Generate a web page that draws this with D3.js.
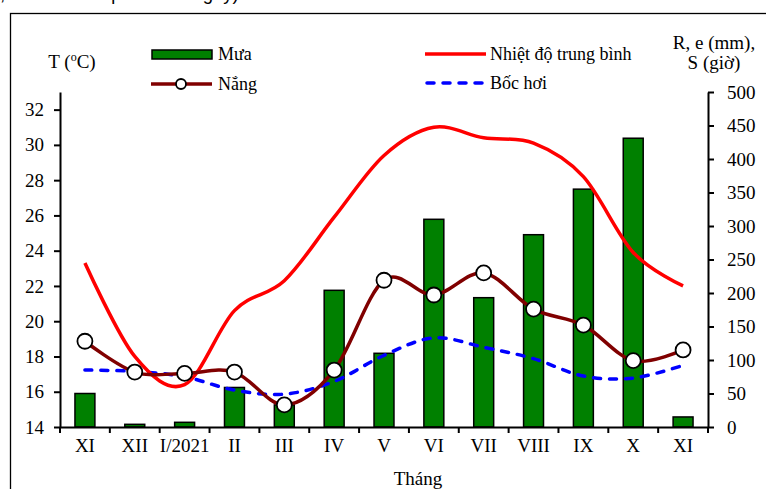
<!DOCTYPE html>
<html>
<head>
<meta charset="utf-8">
<script src="https://cdn.jsdelivr.net/npm/d3@7"></script>
<style>
  body { margin: 0; background: #fff; }
  svg { display: block; }
  text { font-family: "Liberation Serif", "Times New Roman", serif; fill: #000; }
</style>
</head>
<body>
<svg id="chart" width="766" height="489"></svg>
<script>
// month labels (Nov 2020 -> Nov 2021)
var months = ["XI", "XII", "I/2021", "II", "III", "IV", "V", "VI", "VII", "VIII", "IX", "X", "XI"];
// rainfall R (mm) - bars, right axis
var rain = [50, 4, 7, 59, 33, 204, 110, 310, 193, 287, 355, 431, 15];
// sunshine S (hours) - right axis
var sun = [128, 82, 80, 82, 33, 85, 219, 197, 230, 176, 152, 99, 115];
// evaporation e (mm) - right axis
var evap = [85, 83, 75, 55, 49, 68, 107, 133, 119, 102, 76, 73, 92];
// mean temperature T (oC) - left axis
var temp = [23.3, 18.0, 16.4, 20.6, 22.3, 25.9, 29.4, 31.0, 30.4, 30.1, 28.2, 23.9, 22.0];

var leftTicks = [14, 16, 18, 20, 22, 24, 26, 28, 30, 32];
var rightTicks = [0, 50, 100, 150, 200, 250, 300, 350, 400, 450, 500];
var legendNames = ["Mưa", "Nắng", "Nhiệt độ trung bình", "Bốc hơi"];

var svg = d3.select("#chart");
var margin = {left: 60, right: 708, top: 92, bottom: 427};

var x = d3.scaleBand().domain(d3.range(months.length)).range([margin.left, margin.right]);
var bw = x.bandwidth();
var cx = function(i) { return x(i) + bw / 2; };
var yL = d3.scaleLinear().domain([14, 33]).range([margin.bottom, margin.top]);
var yR = d3.scaleLinear().domain([0, 500]).range([margin.bottom, margin.top]);

// caption above the chart, cropped by the top edge like in the source picture
svg.append("text")
    .attr("x", 0).attr("y", 0)
    .style("font-family", "'Liberation Sans', Arial, sans-serif")
    .style("font-size", "18.5px")
    .text(", S tính bình quân theo ngày)");

// chart frame (runs off the picture on right and bottom)
svg.append("rect")
    .attr("x", 10.5).attr("y", 13.5)
    .attr("width", 900).attr("height", 600)
    .attr("fill", "none").attr("stroke", "#000").attr("stroke-width", 1.3);

// bars
svg.append("g").selectAll("rect")
    .data(rain)
    .enter().append("rect")
    .attr("x", function(d, i) { return cx(i) - bw * 0.2; })
    .attr("width", bw * 0.4)
    .attr("y", function(d) { return yR(d); })
    .attr("height", function(d) { return yR(0) - yR(d); })
    .attr("fill", "#008000")
    .attr("stroke", "#000")
    .attr("stroke-width", 1.5);

var smooth = d3.curveCardinal.tension(0);

var lineR = d3.line()
    .x(function(d, i) { return cx(i); })
    .y(function(d) { return yR(d); })
    .curve(smooth);
var lineT = d3.line()
    .x(function(d, i) { return cx(i); })
    .y(function(d) { return yL(d); })
    .curve(smooth);

// evaporation
svg.append("path")
    .datum(evap)
    .attr("d", lineR)
    .attr("fill", "none")
    .attr("stroke", "#0000ff")
    .attr("stroke-width", 3.5)
    .attr("stroke-linecap", "round")
    .attr("stroke-dasharray", "7,9");

// temperature
svg.append("path")
    .datum(temp)
    .attr("d", lineT)
    .attr("fill", "none")
    .attr("stroke", "#ff0000")
    .attr("stroke-width", 3.5);

// sunshine
svg.append("path")
    .datum(sun)
    .attr("d", lineR)
    .attr("fill", "none")
    .attr("stroke", "#800000")
    .attr("stroke-width", 3.5);

svg.append("g").selectAll("circle")
    .data(sun)
    .enter().append("circle")
    .attr("cx", function(d, i) { return cx(i); })
    .attr("cy", function(d) { return yR(d); })
    .attr("r", 7.5)
    .attr("fill", "#fff")
    .attr("stroke", "#000")
    .attr("stroke-width", 1.8);

// axes
var axL = svg.append("g")
    .attr("transform", "translate(" + margin.left + ",0)")
    .call(d3.axisLeft(yL).tickValues(leftTicks).tickSize(6).tickPadding(10).tickSizeOuter(0));
var axR = svg.append("g")
    .attr("transform", "translate(" + margin.right + ",0)")
    .call(d3.axisRight(yR).tickValues(rightTicks).tickSize(6).tickPadding(13).tickSizeOuter(0));
var axB = svg.append("g")
    .attr("transform", "translate(0," + margin.bottom + ")")
    .call(d3.axisBottom(x).tickFormat(function(i) { return months[i]; }).tickSize(0).tickPadding(12).tickSizeOuter(0));

// x ticks sit between categories
axB.selectAll(".sep")
    .data(d3.range(months.length + 1))
    .enter().append("line")
    .attr("class", "sep")
    .attr("x1", function(i) { return margin.left + i * bw; })
    .attr("x2", function(i) { return margin.left + i * bw; })
    .attr("y1", 0).attr("y2", 6)
    .attr("stroke", "#000").attr("stroke-width", 2);

[axL, axR, axB].forEach(function(a) {
    a.selectAll(".domain").attr("stroke", "#000").attr("stroke-width", 2);
    a.selectAll(".tick line").attr("stroke", "#000").attr("stroke-width", 2);
    a.selectAll("text")
        .style("font-family", "'Liberation Serif', 'Times New Roman', serif")
        .style("font-size", "19px");
});
axB.selectAll(".tick text").attr("dy", "0.71em");

// axis titles
var tT = svg.append("text")
    .attr("x", 72).attr("y", 68)
    .attr("text-anchor", "middle")
    .style("font-size", "19px");
tT.append("tspan").text("T (");
tT.append("tspan").attr("dy", -7).style("font-size", "12px").text("o");
tT.append("tspan").attr("dy", 7).text("C)");

svg.append("text")
    .attr("x", 714).attr("y", 49)
    .attr("text-anchor", "middle")
    .style("font-size", "19px")
    .text("R, e (mm),");
svg.append("text")
    .attr("x", 714).attr("y", 69)
    .attr("text-anchor", "middle")
    .style("font-size", "19px")
    .text("S (giờ)");

svg.append("text")
    .attr("x", 418).attr("y", 485)
    .attr("text-anchor", "middle")
    .style("font-size", "19px")
    .text("Tháng");

// legend
var lg = svg.append("g");
lg.append("rect")
    .attr("x", 152).attr("y", 50).attr("width", 60).attr("height", 9)
    .attr("fill", "#008000").attr("stroke", "#000").attr("stroke-width", 1.5);
lg.append("line")
    .attr("x1", 151).attr("x2", 212).attr("y1", 84).attr("y2", 84)
    .attr("stroke", "#800000").attr("stroke-width", 3.5);
lg.append("circle")
    .attr("cx", 181).attr("cy", 84).attr("r", 5)
    .attr("fill", "#fff").attr("stroke", "#000").attr("stroke-width", 1.8);
lg.append("line")
    .attr("x1", 425).attr("x2", 486).attr("y1", 54).attr("y2", 54)
    .attr("stroke", "#ff0000").attr("stroke-width", 3.5);
lg.append("line")
    .attr("x1", 427).attr("x2", 486).attr("y1", 83).attr("y2", 83)
    .attr("stroke", "#0000ff").attr("stroke-width", 3.5)
    .attr("stroke-linecap", "round").attr("stroke-dasharray", "7,9");

var legendPos = [[218, 60], [218, 90], [490, 60], [490, 89]];
lg.selectAll("text.lbl")
    .data(legendNames)
    .enter().append("text")
    .attr("class", "lbl")
    .attr("x", function(d, i) { return legendPos[i][0]; })
    .attr("y", function(d, i) { return legendPos[i][1]; })
    .style("font-size", "18px")
    .text(function(d) { return d; });
</script>
</body>
</html>
